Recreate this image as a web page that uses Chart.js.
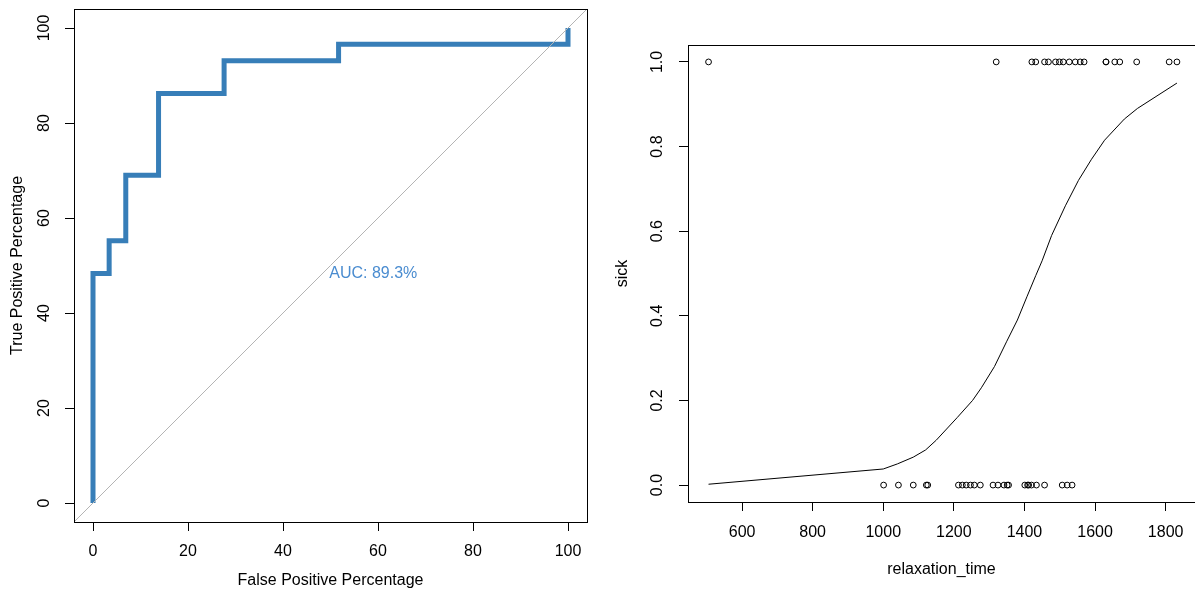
<!DOCTYPE html>
<html>
<head>
<meta charset="utf-8">
<script src="https://cdn.jsdelivr.net/npm/chart.js@4.4.1/dist/chart.umd.min.js"></script>
<style>
  html, body { margin: 0; padding: 0; background: #fff; overflow: hidden; }
  #roc-wrap { position: absolute; left: 0; top: 0; }
  #fit-wrap { position: absolute; left: 600px; top: 0; }
</style>
</head>
<body>
<div id="roc-wrap"><canvas id="roc-chart" width="600" height="590"></canvas></div>
<div id="fit-wrap"><canvas id="fit-chart" width="600" height="590"></canvas></div>
<script>
// ROC curve, in percent
const fpp = [0, 0, 3.4, 3.4, 6.9, 6.9, 13.8, 13.8, 27.6, 27.6, 51.7, 51.7, 100, 100];
const tpp = [0, 48.3, 48.3, 55.2, 55.2, 69.0, 69.0, 86.2, 86.2, 93.1, 93.1, 96.6, 96.6, 100];
const pctTicks = [0, 20, 40, 60, 80, 100];
const aucText = "AUC: 89.3%";

// logistic fit: sick ~ relaxation_time
const sickTimes = [505, 1320, 1421, 1432, 1457, 1468, 1488, 1499, 1510, 1527, 1544, 1558, 1569,
                   1631, 1631, 1656, 1670, 1718, 1810, 1832];
const healthyTimes = [1001, 1043, 1085, 1122, 1126, 1213, 1224, 1235, 1247, 1258, 1275, 1311, 1325,
                      1342, 1351, 1355, 1401, 1409, 1412, 1420, 1434, 1457, 1507, 1521, 1535];
const curveTimes = [505, 1000, 1040, 1085, 1120, 1150, 1210, 1253, 1278, 1315, 1350, 1380, 1407,
                    1432, 1450, 1477, 1516, 1553, 1590, 1627, 1683, 1720, 1832];
const curveProb = [0.002, 0.038, 0.05, 0.066, 0.083, 0.106, 0.16, 0.20, 0.23, 0.28, 0.34, 0.39, 0.445,
                   0.495, 0.53, 0.59, 0.66, 0.72, 0.77, 0.815, 0.865, 0.89, 0.95];
const timeTicks = [600, 800, 1000, 1200, 1400, 1600, 1800];
const probTicks = [0, 0.2, 0.4, 0.6, 0.8, 1.0];

const FONT = "'Liberation Sans', Arial, sans-serif";

// box around the plot region + rotated y tick labels (R style)
function rFrame(labels, fmt, gap) {
    return {
        id: "rFrame",
        afterDraw(chart) {
            const ctx = chart.ctx;
            const a = chart.chartArea;
            ctx.save();
            ctx.strokeStyle = "#000";
            ctx.lineWidth = 1;
            ctx.strokeRect(Math.round(a.left) + 0.5, Math.round(a.top) + 0.5,
                Math.round(a.right - a.left), Math.round(a.bottom - a.top));
            ctx.font = "16px " + FONT;
            ctx.fillStyle = "#000";
            ctx.textAlign = "center";
            ctx.textBaseline = "middle";
            labels.forEach((v) => {
                const py = chart.scales.y.getPixelForValue(v);
                ctx.save();
                ctx.translate(a.left - gap, py);
                ctx.rotate(-Math.PI / 2);
                ctx.fillText(fmt(v), 0, 0);
                ctx.restore();
            });
            ctx.restore();
        }
    };
}

function axisX(min, max, ticks, title, pad, titlePad) {
    return {
        type: "linear", min: min, max: max,
        afterBuildTicks: (s) => { s.ticks = ticks.map((v) => ({ value: v })); },
        afterFit: (s) => { s.height = pad.size; },
        border: { display: false },
        grid: { drawOnChartArea: false, drawTicks: true, tickLength: 9, color: "#000", lineWidth: 1 },
        ticks: { color: "#000", font: { size: 16, family: FONT }, padding: pad.ticks, maxRotation: 0,
                 autoSkip: false, callback: (v) => String(v) },
        title: { display: true, text: title, color: "#000", font: { size: 16, family: FONT, lineHeight: 1.2 },
                 padding: { top: 0, bottom: titlePad } }
    };
}

function axisY(min, max, ticks, title, size, titlePad) {
    return {
        type: "linear", min: min, max: max,
        afterBuildTicks: (s) => { s.ticks = ticks.map((v) => ({ value: v })); },
        afterFit: (s) => { s.width = size; },
        border: { display: false },
        grid: { drawOnChartArea: false, drawTicks: true, tickLength: 9, color: "#000", lineWidth: 1 },
        ticks: { display: false },
        title: { display: true, text: title, color: "#000", font: { size: 16, family: FONT, lineHeight: 1.2 },
                 padding: { top: titlePad, bottom: 0 } }
    };
}

// AUC label inside the ROC plot
const aucPlugin = {
    id: "aucText",
    afterDatasetsDraw(chart) {
        const ctx = chart.ctx;
        ctx.save();
        ctx.font = "16px " + FONT;
        ctx.fillStyle = "#4a8cd0";
        ctx.textAlign = "center";
        ctx.textBaseline = "middle";
        ctx.fillText(aucText, chart.scales.x.getPixelForValue(59), chart.scales.y.getPixelForValue(48.4));
        ctx.restore();
    }
};

new Chart(document.getElementById("roc-chart"), {
    type: "scatter",
    data: {
        datasets: [
            {
                data: [{ x: -4, y: -4 }, { x: 104, y: 104 }],
                showLine: true, borderColor: "#b4b4b4", borderWidth: 1, pointRadius: 0
            },
            {
                data: fpp.map((v, i) => ({ x: v, y: tpp[i] })),
                showLine: true, borderColor: "#377eb8", borderWidth: 5, pointRadius: 0,
                borderJoinStyle: "miter", tension: 0
            }
        ]
    },
    options: {
        responsive: false,
        animation: false,
        layout: { padding: { top: 9, right: 13, left: 0, bottom: 0 } },
        plugins: { legend: { display: false }, tooltip: { enabled: false } },
        scales: {
            x: axisX(-4, 104, pctTicks, "False Positive Percentage", { size: 68, ticks: 11 }, 0),
            y: axisY(-4, 104, pctTicks, "True Positive Percentage", 74, 8)
        }
    },
    plugins: [rFrame(pctTicks, (v) => String(v), 29), aucPlugin]
});

const circle = {
    pointStyle: "circle", pointRadius: 2.9, borderColor: "#000", borderWidth: 1,
    backgroundColor: "rgba(0,0,0,0)", showLine: false
};

new Chart(document.getElementById("fit-chart"), {
    type: "scatter",
    data: {
        datasets: [
            Object.assign({ data: sickTimes.map((t) => ({ x: t, y: 1 })) }, circle),
            Object.assign({ data: healthyTimes.map((t) => ({ x: t, y: 0 })) }, circle),
            {
                data: curveTimes.map((t, i) => ({ x: t, y: curveProb[i] })),
                showLine: true, borderColor: "#000", borderWidth: 1, pointRadius: 0, tension: 0
            }
        ]
    },
    options: {
        responsive: false,
        animation: false,
        layout: { padding: { top: 45, right: 3, left: 0, bottom: 0 } },
        plugins: { legend: { display: false }, tooltip: { enabled: false } },
        scales: {
            x: axisX(446.8, 1883.2, timeTicks, "relaxation_time", { size: 88, ticks: 12 }, 11),
            y: axisY(-0.04, 1.04, probTicks, "sick", 88, 13)
        }
    },
    plugins: [rFrame(probTicks, (v) => v.toFixed(1), 30)]
});
</script>
</body>
</html>
